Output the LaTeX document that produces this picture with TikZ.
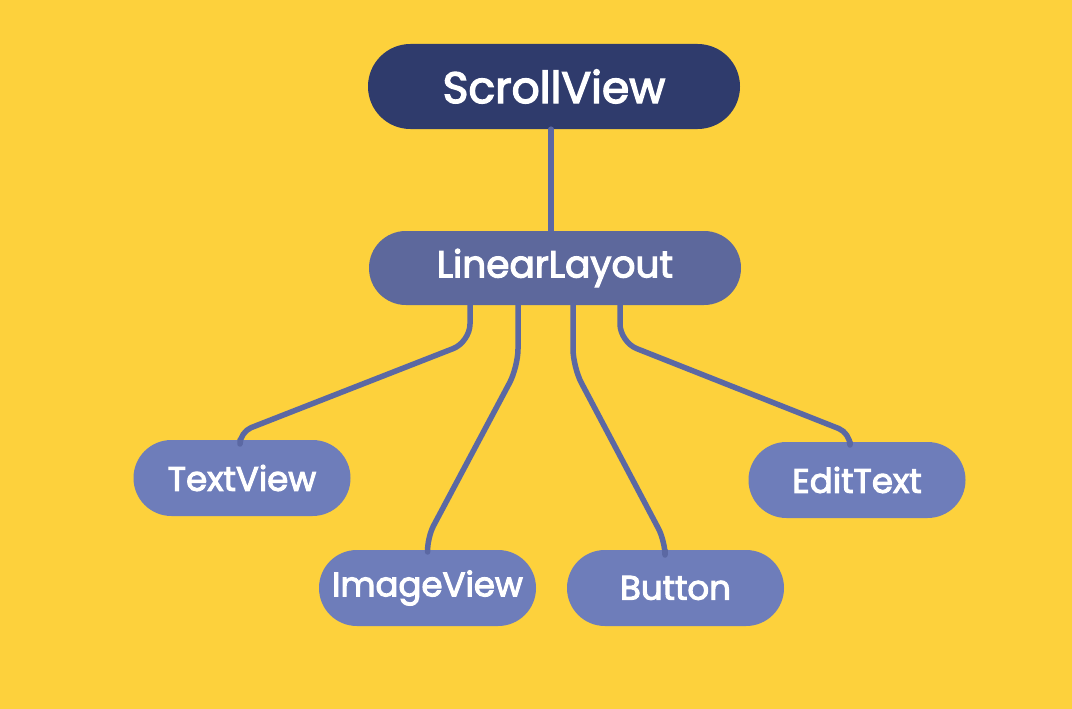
\documentclass[tikz,border=0pt]{standalone}
\usepackage{fontspec}
\setmainfont{Poppins}[FakeBold=3]
\definecolor{bg}{HTML}{FDD13C}
\definecolor{navy}{HTML}{2F3B6C}
\definecolor{midblue}{HTML}{5D689C}
\definecolor{childblue}{HTML}{6E7DBA}
\definecolor{linkblue}{HTML}{5B68A3}
\tikzset{
  pill/.style={draw=none, fill=childblue, text=white, minimum width=217pt, minimum height=76pt, rounded corners=37.9pt, inner sep=0pt, font=\fontsize{34}{36}\selectfont},
  toppill/.style={pill, fill=navy, minimum width=372pt, minimum height=85pt, rounded corners=42.4pt, font=\fontsize{44}{46}\selectfont},
  midpill/.style={pill, fill=midblue, minimum width=372pt, minimum height=74pt, rounded corners=36.9pt, font=\fontsize{37.5}{39}\selectfont},
  conn/.style={draw=linkblue, line width=5.5pt, rounded corners=18pt, line cap=round, line join=round},
}
\begin{document}
\begin{tikzpicture}[x=1pt,y=-1pt]
\fill[bg] (0,0) rectangle (1072,709);
\useasboundingbox (0,0) rectangle (1072,709);
\node[toppill] (SV) at (554,86.5) {ScrollView};
\node[midpill] (LL) at (555,268) {LinearLayout};
\node[pill] (TV) at (242,478) {TextView};
\node[pill] (IV) at (427.5,588) {ImageView};
\node[pill] (BT) at (675.5,588) {Button};
\node[pill] (ET) at (857,480) {EditText};
\draw[conn] ([xshift=-3pt]SV.south) -- ([xshift=-4pt]LL.north);
\draw[conn] ([xshift=-85pt]LL.south) -- (470,342) [rounded corners=12pt] -- (240,432) -- ([xshift=-2pt]TV.north);
\draw[conn] ([xshift=-37pt]LL.south) -- (518,367) [rounded corners=14pt] -- (427,538) -- (IV.north);
\draw[conn] ([xshift=18pt]LL.south) -- (573,367) [rounded corners=14pt] -- (665,541) -- ([xshift=-10.5pt]BT.north);
\draw[conn] ([xshift=65pt]LL.south) -- (620,342) [rounded corners=12pt] -- (850,433) -- ([xshift=-7pt]ET.north);
\end{tikzpicture}
\end{document}
